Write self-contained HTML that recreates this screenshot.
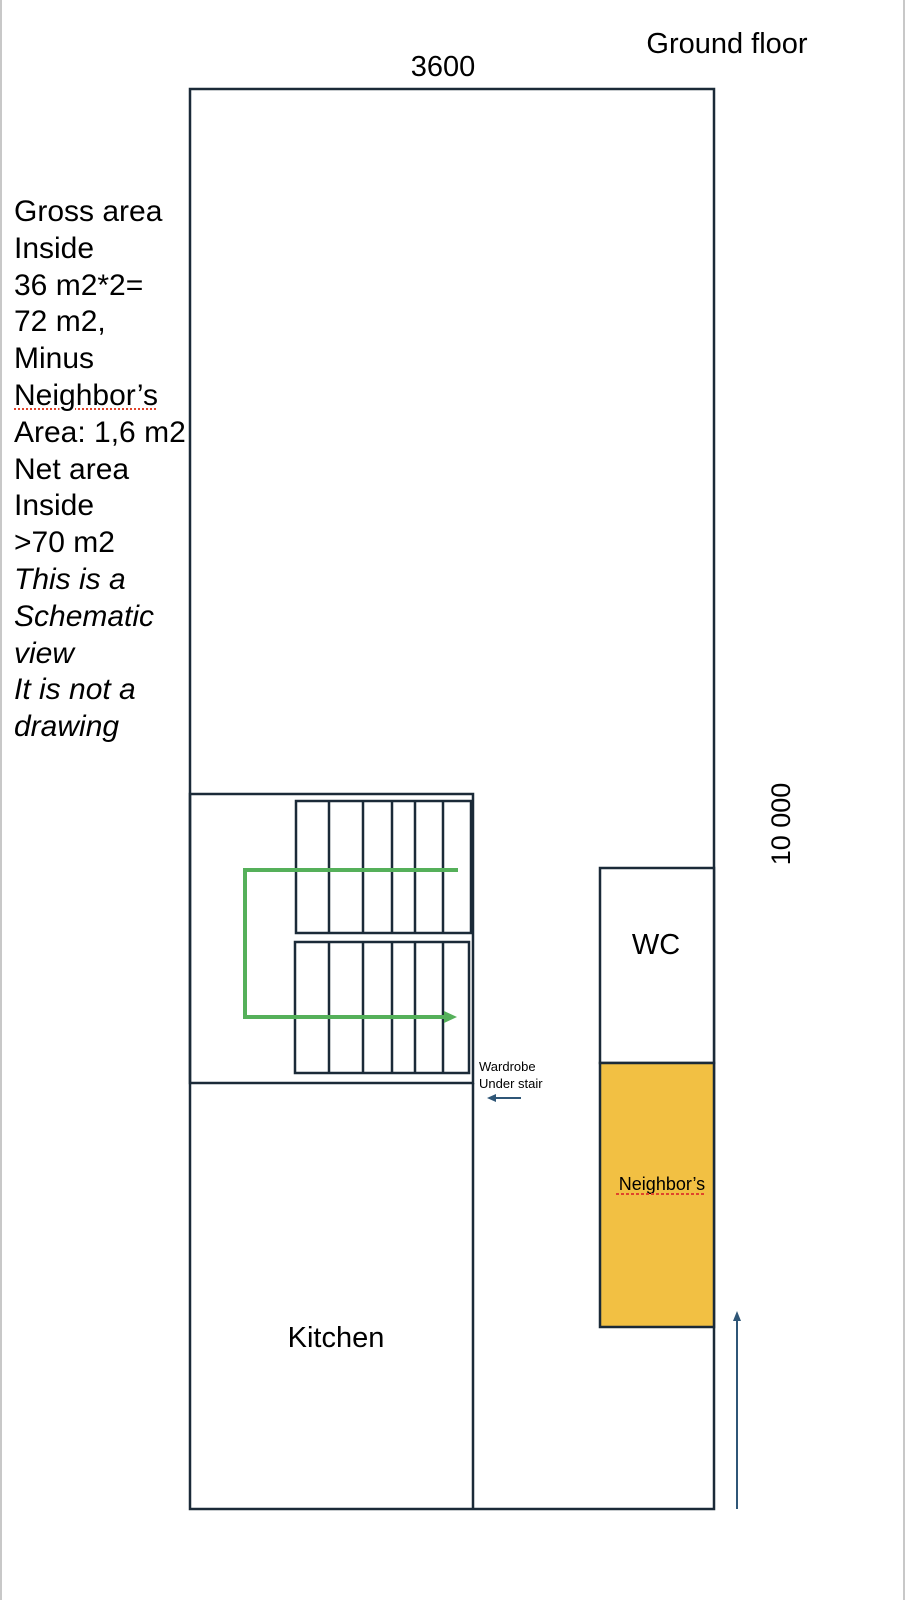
<!DOCTYPE html>
<html><head><meta charset="utf-8"><style>
html,body{margin:0;padding:0;background:#fff;}
body{width:905px;height:1600px;position:relative;overflow:hidden;font-family:"Liberation Sans",Arial,sans-serif;}
svg{position:absolute;left:0;top:0;}
.lt{position:absolute;left:14px;top:194px;font-size:30px;line-height:36.8px;color:#000;white-space:nowrap;}
.sq{text-decoration:underline dotted #e0442c;text-decoration-thickness:2px;text-underline-offset:4px;}
</style></head><body>
<svg width="905" height="1600" viewBox="0 0 905 1600">
<rect x="0" y="0" width="2" height="1600" fill="#c8c8c8"/>
<rect x="903" y="0" width="2" height="1600" fill="#c8c8c8"/>
<g fill="none" stroke="#1b2a38" stroke-width="2.5">
<rect x="190" y="89" width="524" height="1420"/>
<rect x="190" y="794" width="283" height="289"/>
<line x1="473" y1="1083" x2="473" y2="1509"/>
<rect x="600" y="868" width="114" height="195" fill="#fff"/>
<rect x="600" y="1063" width="114" height="264" fill="#F2C043"/>
<rect x="296" y="801" width="175" height="132"/>
<rect x="295" y="942" width="174" height="131"/>
<g>
<line x1="329" y1="801" x2="329" y2="933"/><line x1="363" y1="801" x2="363" y2="933"/>
<line x1="392" y1="801" x2="392" y2="933"/><line x1="415" y1="801" x2="415" y2="933"/>
<line x1="443" y1="801" x2="443" y2="933"/>
<line x1="329" y1="942" x2="329" y2="1073"/><line x1="363" y1="942" x2="363" y2="1073"/>
<line x1="392" y1="942" x2="392" y2="1073"/><line x1="415" y1="942" x2="415" y2="1073"/>
<line x1="443" y1="942" x2="443" y2="1073"/>
</g>
</g>
<polyline points="458,870 245,870 245,1017 446,1017" fill="none" stroke="#55b05a" stroke-width="4"/>
<polygon points="444,1011 457,1017 444,1023" fill="#55b05a"/>
<line x1="737" y1="1509" x2="737" y2="1318" stroke="#2f5677" stroke-width="2"/>
<polygon points="733,1321 737,1311 741,1321" fill="#2f5677"/>
<line x1="521" y1="1098" x2="494" y2="1098" stroke="#2f5677" stroke-width="2"/>
<polygon points="496,1094 487,1098 496,1102" fill="#2f5677"/>
<g font-family="Liberation Sans, Arial, sans-serif" fill="#000" text-anchor="middle">
<text x="443" y="76" font-size="29">3600</text>
<text x="727" y="53" font-size="29">Ground floor</text>
<text x="656" y="954" font-size="29">WC</text>
<text x="336" y="1347" font-size="29">Kitchen</text>
<text x="662" y="1190" font-size="18">Neighbor’s</text>
<text x="790" y="824" font-size="27" transform="rotate(-90 790 824)">10 000</text>
<text x="479" y="1071" font-size="13" text-anchor="start">Wardrobe</text>
<text x="479" y="1088" font-size="13" text-anchor="start">Under stair</text>
</g>
<line x1="616" y1="1194" x2="706" y2="1194" stroke="#e0442c" stroke-width="2" stroke-dasharray="3,2"/>
</svg>
<div class="lt">Gross area<br>Inside<br>36 m2*2=<br>72 m2,<br>Minus<br><span class="sq">Neighbor’s</span><br>Area: 1,6 m2<br>Net area<br>Inside<br>&gt;70 m2<br><i>This is a<br>Schematic<br>view<br>It is not a<br>drawing</i></div>
</body></html>
